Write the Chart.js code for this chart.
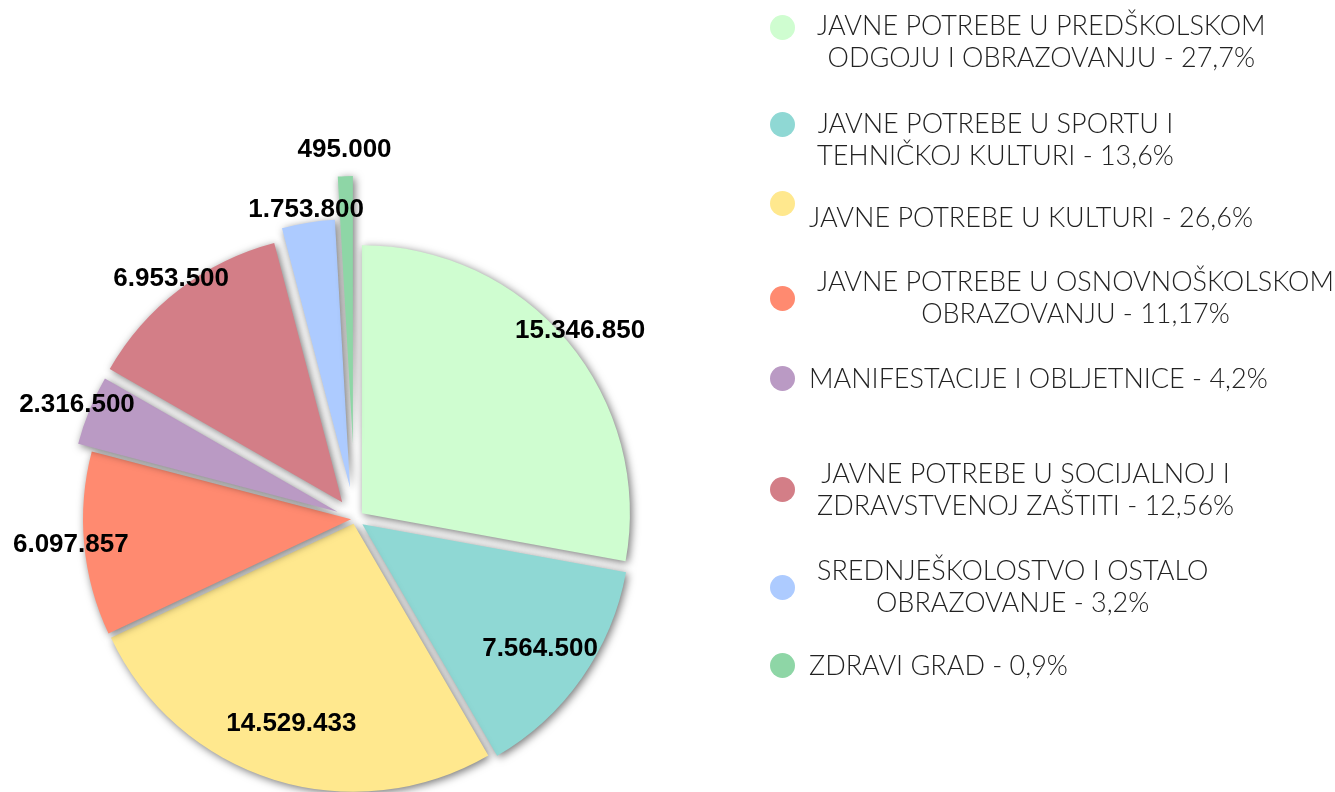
<!DOCTYPE html>
<html>
<head>
<meta charset="utf-8">
<script src="https://cdn.jsdelivr.net/npm/chart.js@4"></script>
<style>
  html, body { margin: 0; padding: 0; background: #ffffff; }
  #wrap { position: relative; width: 1335px; height: 792px; overflow: hidden; }
  #chartBox { position: absolute; left: 0; top: 0; width: 1335px; height: 792px; }
  .lg-dot { position: absolute; width: 25px; height: 25px; border-radius: 50%; }
  .lg-text { position: absolute; font-family: Lato, "Open Sans", sans-serif; font-weight: 300;
             font-size: 27px; line-height: 32px; color: #222; text-align: center; white-space: pre; }
</style>
</head>
<body>
<div id="wrap">
  <div id="chartBox"><canvas id="c"></canvas></div>
  <div id="legend"></div>
</div>
<script>
// ---- data ----
const categories = [
  "JAVNE POTREBE U PREDŠKOLSKOM\nODGOJU I OBRAZOVANJU",
  "JAVNE POTREBE U SPORTU I\nTEHNIČKOJ KULTURI",
  "JAVNE POTREBE U KULTURI",
  "JAVNE POTREBE U OSNOVNOŠKOLSKOM\nOBRAZOVANJU",
  "MANIFESTACIJE I OBLJETNICE",
  "JAVNE POTREBE U SOCIJALNOJ I\nZDRAVSTVENOJ ZAŠTITI",
  "SREDNJEŠKOLOSTVO I OSTALO\nOBRAZOVANJE",
  "ZDRAVI GRAD"
];
const values = [15346850, 7564500, 14529433, 6097857, 2316500, 6953500, 1753800, 495000];
const shares = ["27,7%", "13,6%", "26,6%", "11,17%", "4,2%", "12,56%", "3,2%", "0,9%"];
const colors = ["#CFFDD0", "#8FD8D4", "#FFE88E", "#FF8A70", "#BA9AC4", "#D37E87", "#ADCBFF", "#8ED6A6"];

// ---- style (layout only) ----
const explode = [9, 9, 5, 4, 19, 21, 32, 75];
const labelRadius = [1.06, 0.81, 0.78, 1.05, 1.05, 1.05, 1.05, 1.10];
const legendDotY = [27, 124, 203, 298, 378, 489, 587, 665];
const legendTextY = [25, 123, 217, 281, 378, 473, 570, 665];

function fmt(v) {
  return String(v).replace(/\B(?=(\d{3})+(?!\d))/g, ".");
}

// legend (HTML)
const legend = document.getElementById("legend");
categories.forEach((cat, i) => {
  const dot = document.createElement("div");
  dot.className = "lg-dot";
  dot.style.left = "770px";
  dot.style.top = (legendDotY[i] - 12.5) + "px";
  dot.style.background = colors[i];
  legend.appendChild(dot);
  const t = document.createElement("div");
  t.className = "lg-text";
  const multi = cat.indexOf("\n") >= 0;
  t.style.left = (multi ? 817 : 809) + "px";
  t.style.top = (legendTextY[i] - 16) + "px";
  t.textContent = cat + " - " + shares[i];
  legend.appendChild(t);
});

const explodePlugin = {
  id: "explode",
  beforeDatasetDraw(chart, args) {
    const ca = chart.chartArea;
    const cx = (ca.left + ca.right) / 2, cy = (ca.top + ca.bottom) / 2;
    args.meta.data.forEach((el, i) => {
      const mid = (el.startAngle + el.endAngle) / 2;
      el.x = cx + Math.cos(mid) * explode[i];
      el.y = cy + Math.sin(mid) * explode[i];
    });
    const ctx = chart.ctx;
    ctx.save();
    ctx.shadowColor = "rgba(0,0,0,0.55)";
    ctx.shadowBlur = 8;
    ctx.shadowOffsetX = 2;
    ctx.shadowOffsetY = 2;
  },
  afterDatasetDraw(chart) {
    chart.ctx.restore();
  },
  afterDatasetsDraw(chart) {
    const ctx = chart.ctx;
    const meta = chart.getDatasetMeta(0);
    ctx.save();
    ctx.font = "bold 26px 'Liberation Sans', Arial, sans-serif";
    ctx.fillStyle = "#000";
    ctx.textAlign = "center";
    ctx.textBaseline = "middle";
    meta.data.forEach((el, i) => {
      const mid = (el.startAngle + el.endAngle) / 2;
      const r = el.outerRadius * labelRadius[i];
      ctx.fillText(fmt(values[i]), el.x + Math.cos(mid) * r, el.y + Math.sin(mid) * r);
    });
    ctx.restore();
  }
};

new Chart(document.getElementById("c"), {
  type: "pie",
  data: {
    labels: categories.map(c => c.replace("\n", " ")),
    datasets: [{
      data: values,
      backgroundColor: colors,
      borderWidth: 0,
      clip: false
    }]
  },
  options: {
    responsive: true,
    maintainAspectRatio: false,
    animation: false,
    radius: 268,
    layout: { padding: { left: 0, right: 625, top: 246, bottom: 0 } },
    plugins: {
      legend: { display: false },
      tooltip: { enabled: false }
    },
    events: []
  },
  plugins: [explodePlugin]
});
</script>
</body>
</html>
